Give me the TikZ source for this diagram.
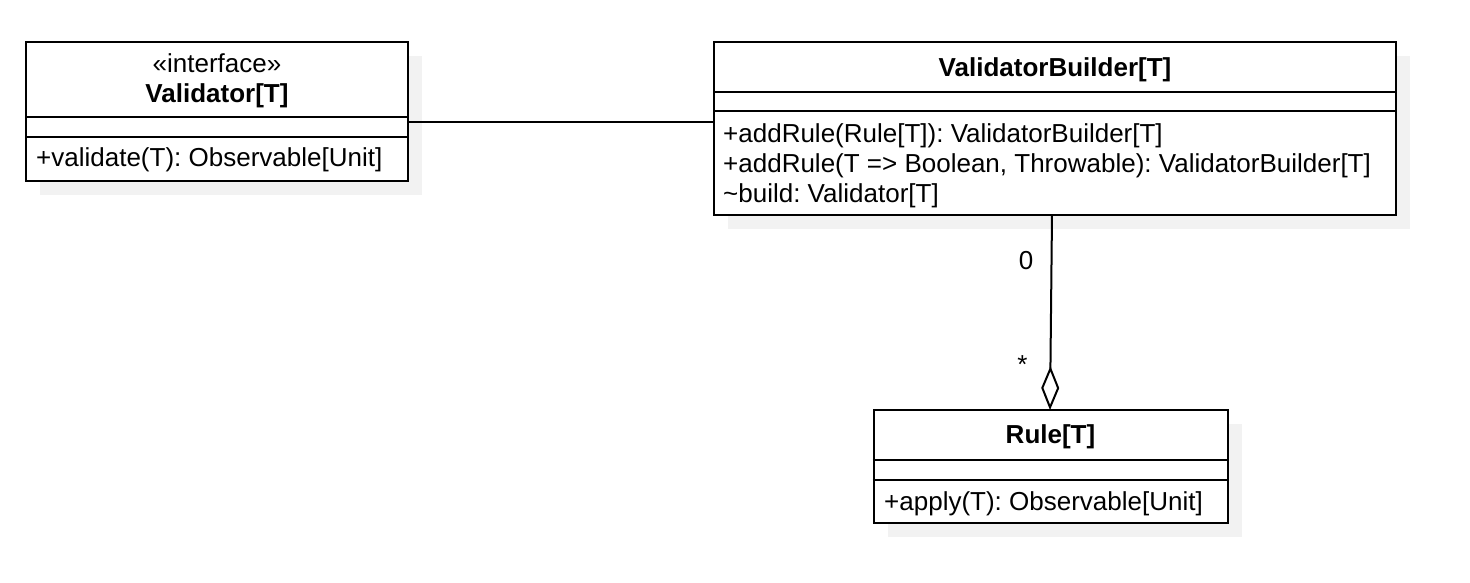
\documentclass[tikz,border=0pt]{standalone}
\usepackage{fontspec}
\setmainfont{Liberation Sans}
\usetikzlibrary{arrows.meta,shadows}
\frenchspacing
\begin{document}
\begin{tikzpicture}[x=1pt,y=-1pt,
  txt/.style={inner sep=0pt,font=\fontsize{26}{30}\selectfont\frenchspacing},
  ttl/.style={inner sep=0pt,font=\fontsize{26}{30}\selectfont\bfseries\frenchspacing},
  umlbox/.style={draw,line width=2pt,fill=white,inner sep=0pt,
    drop shadow={shadow xshift=14pt,shadow yshift=-14pt,fill=black!5,opacity=1}},
  sepline/.style={line width=2pt},
  link/.style={line width=2pt}]
\useasboundingbox (0,0) rectangle (1470,582);
% boxes
\node[umlbox,minimum width=382pt,minimum height=139pt] (validator) at (217,111.5) {};
\node[umlbox,minimum width=682pt,minimum height=173pt] (builder) at (1055,128.5) {};
\node[umlbox,minimum width=354pt,minimum height=113pt] (rule) at (1050.5,466.5) {};
% compartments
\draw[sepline] (validator.west |- 0,117) -- (validator.east |- 0,117);
\draw[sepline] (validator.west |- 0,137) -- (validator.east |- 0,137);
\draw[sepline] (builder.west |- 0,92) -- (builder.east |- 0,92);
\draw[sepline] (builder.west |- 0,111) -- (builder.east |- 0,111);
\draw[sepline] (rule.west |- 0,460) -- (rule.east |- 0,460);
\draw[sepline] (rule.west |- 0,480) -- (rule.east |- 0,480);
% texts
\node[txt,anchor=base] (vstereo) at (217,72) {«interface»};
\node[ttl,anchor=base] (vname) at (217,102) {Validator[T]};
\node[txt,anchor=base west] (vop) at (36,166) {+validate(T): Observable[Unit]};
\node[ttl,anchor=base] (bname) at (1055,76) {ValidatorBuilder[T]};
\node[txt,anchor=base west] (bop1) at (723,142) {+addRule(Rule[T]): ValidatorBuilder[T]};
\node[txt,anchor=base west] (bop2) at (723,172) {+addRule(T => Boolean, Throwable): ValidatorBuilder[T]};
\node[txt,anchor=base west] (bop3) at (723,202) {\textasciitilde build: Validator[T]};
\node[ttl,anchor=base] (rname) at (1050.5,443) {Rule[T]};
\node[txt,anchor=base west] (rop) at (884,510) {+apply(T): Observable[Unit]};
% connectors
\draw[link] (validator.east |- 0,122) -- (builder.west |- 0,122);
\coordinate (aggtop) at (1052,215);
\coordinate (agghead) at (1050,410);
\draw[link,-{Diamond[open,length=44pt,width=18pt]}] (aggtop) -- (agghead);
\node[txt,anchor=base] (m0) at (1026,269) {0};
\node[txt,anchor=base] (mstar) at (1022.5,373) {*};
\end{tikzpicture}
\end{document}
